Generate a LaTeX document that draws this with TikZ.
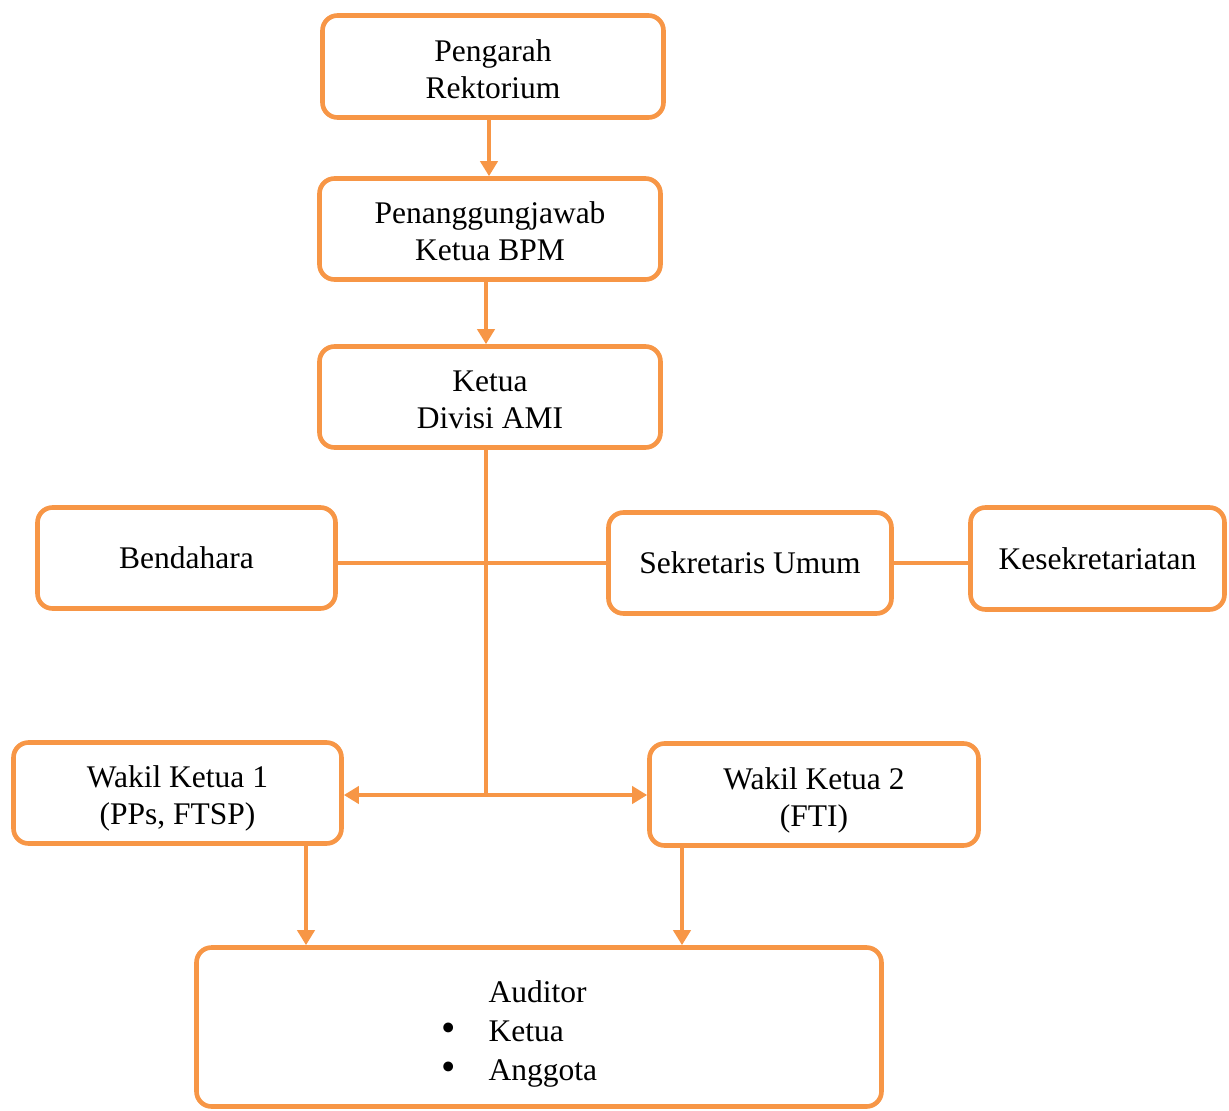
\documentclass[tikz,border=0pt]{standalone}
\usepackage{fontspec}
\setmainfont{Liberation Serif}
\usetikzlibrary{arrows.meta}
\definecolor{org}{HTML}{F79646}
\newcommand\twoline[2]{\raisebox{-6pt}[\height][\depth]{\begin{tabular}{@{}c@{}}#1\\#2\end{tabular}}}
\begin{document}
\begin{tikzpicture}[x=1pt,y=-1pt,
  box/.style={draw=org, line width=4.6pt, rounded corners=15pt, fill=white, inner sep=0pt, align=center, font=\fontsize{31.5}{37}\selectfont},
  conn/.style={draw=org, line width=4pt},
  arr/.style={conn, -{Triangle[length=15pt,width=17pt]}},
  darr/.style={conn, {Triangle[length=15pt,width=17pt]}-{Triangle[length=15pt,width=17pt]}}]
\useasboundingbox (0,0) rectangle (1229,1111);
\node[box, minimum width=341, minimum height=102] (p1) at (493,66.5) {\twoline{Pengarah}{Rektorium}};
\node[box, minimum width=341, minimum height=101] (p2) at (490,229) {\twoline{Penanggungjawab}{Ketua BPM}};
\node[box, minimum width=341, minimum height=101] (k) at (490,397) {\twoline{Ketua}{Divisi AMI}};
\node[box, minimum width=298, minimum height=101] (bend) at (186.5,558) {Bendahara};
\node[box, minimum width=283, minimum height=101] (sek) at (750,563) {Sekretaris Umum};
\node[box, minimum width=254, minimum height=102] (kes) at (1097.5,558.5) {Kesekretariatan};
\node[box, minimum width=328, minimum height=101] (w1) at (177.5,793) {\twoline{Wakil Ketua 1}{(PPs, FTSP)}};
\node[box, minimum width=329, minimum height=102] (w2) at (814,794.5) {\twoline{Wakil Ketua 2}{(FTI)}};
\node[box, minimum width=685, minimum height=159] (aud) at (539,1027) {};
\node[anchor=west, inner sep=0pt, font=\fontsize{31.5}{39}\selectfont, align=left] (audtxt) at (441,1034)
  {\begin{tabular}{@{}l@{\hspace{33pt}}l@{}} & Auditor\\ \scalebox{1.3}{\textbullet} & Ketua\\ \scalebox{1.3}{\textbullet} & Anggota\end{tabular}};
\coordinate (j) at (486,795);
\coordinate (a1) at (306,0);
\coordinate (a2) at (682,0);
\coordinate (c1) at (489,0);
\draw[arr] (p1.south -| c1) -- (p2.north -| c1);
\draw[arr] (p2.south -| j) -- (k.north -| j);
\draw[conn] (k.south -| j) -- (j);
\draw[conn] (bend.east |- sek.west) -- (sek.west);
\draw[conn] (sek.east) -- (kes.west |- sek.east);
\draw[darr] (w1.east |- j) -- (w2.west |- j);
\draw[arr] (w1.south -| a1) -- (aud.north -| a1);
\draw[arr] (w2.south -| a2) -- (aud.north -| a2);
\end{tikzpicture}
\end{document}
